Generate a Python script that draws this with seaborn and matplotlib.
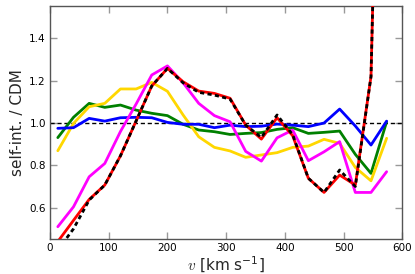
import matplotlib
matplotlib.use("Agg")
import matplotlib.pyplot as plt
import seaborn as sns
import pandas as pd

v = [13.3, 40.0, 66.7, 93.3, 120.0, 146.7, 173.3, 200.0, 226.7, 253.3, 280.0,
     306.7, 333.3, 360.0, 386.7, 413.3, 440.0, 466.7, 493.3, 520.0, 546.7, 573.3]

red = [0.44, 0.54, 0.639, 0.707, 0.845, 1.01, 1.175, 1.258, 1.195, 1.151, 1.14,
       1.117, 0.99, 0.924, 1.025, 0.94, 0.739, 0.672, 0.754, 0.707, 1.22, 4.3]
black = [0.40, 0.50, 0.636, 0.707, 0.845, 1.01, 1.175, 1.258, 1.19, 1.145, 1.132,
         1.113, 0.99, 0.932, 1.038, 0.945, 0.739, 0.672, 0.778, 0.70, 1.22, 4.3]
magenta = [0.51, 0.604, 0.746, 0.809, 0.96, 1.09, 1.227, 1.27, 1.19, 1.093, 1.035,
           1.006, 0.866, 0.82, 0.93, 0.967, 0.822, 0.864, 0.912, 0.672, 0.672, 0.77]
gold = [0.869, 0.998, 1.077, 1.093, 1.161, 1.161, 1.192, 1.15, 1.038, 0.935, 0.885,
        0.868, 0.838, 0.849, 0.86, 0.885, 0.891, 0.923, 0.904, 0.79, 0.727, 0.928]
green = [0.931, 1.027, 1.093, 1.074, 1.085, 1.061, 1.046, 1.035, 0.994, 0.967, 0.959,
         0.946, 0.951, 0.955, 0.970, 0.978, 0.951, 0.956, 0.962, 0.852, 0.762, 1.006]
blue = [0.975, 0.978, 1.022, 1.009, 1.025, 1.027, 1.025, 1.003, 0.994, 0.994, 0.978,
        0.99, 0.983, 0.985, 0.995, 0.99, 0.983, 1.0, 1.066, 0.986, 0.896, 1.009]

xticks = [0, 100, 200, 300, 400, 500, 600]
yticks = [0.6, 0.8, 1.0, 1.2, 1.4]
reference = 1.0

sns.set_style("ticks")
plt.rcParams['font.family'] = ['DejaVu Sans']
plt.rcParams['mathtext.fontset'] = 'cm'
plt.rcParams['mathtext.default'] = 'regular'

fig = plt.figure(figsize=(4.15, 2.74), dpi=100)
ax = fig.add_axes([50/415, 1-239/274, (402.3-50)/415, (239-6)/274])

ax.axhline(reference, color='black', lw=1.0, ls=(0, (3, 2)), zorder=1)

series = [
    (green, '#008000', '-'),
    (gold, '#FFD700', '-'),
    (blue, '#0000FF', '-'),
    (magenta, '#FF00FF', '-'),
    (red, '#FF0000', '-'),
]
for vals, col, ls in series:
    df = pd.DataFrame({'v': v, 'r': vals})
    sns.lineplot(data=df, x='v', y='r', ax=ax, color=col, lw=2.0, estimator=None,
                 sort=False, zorder=3)

dfb = pd.DataFrame({'v': v, 'r': black})
sns.lineplot(data=dfb, x='v', y='r', ax=ax, color='black', lw=2.0, estimator=None,
             sort=False, dashes=False, zorder=4)
ax.lines[-1].set_linestyle((0, (1.5, 1.2)))

ax.set_xlim(0, 600)
ax.set_ylim(0.452, 1.553)
ax.set_xticks(xticks)
ax.set_yticks(yticks)
ax.set_xticklabels([str(t) for t in xticks])
ax.set_yticklabels([f"{t:.1f}" for t in yticks])
ax.tick_params(direction='in', length=5, width=1, colors='#999999',
               labelcolor='black', labelsize=7.5, top=True, right=True, pad=3)
for s in ax.spines.values():
    s.set_color('#555555')
    s.set_linewidth(1.0)

ax.set_xlabel(r'$\mathit{v}$ [km s$^{-1}$]', fontsize=11, labelpad=1)
ax.set_ylabel('self-int. / CDM', fontsize=11, labelpad=3)

fig.savefig('out.png', dpi=100)
